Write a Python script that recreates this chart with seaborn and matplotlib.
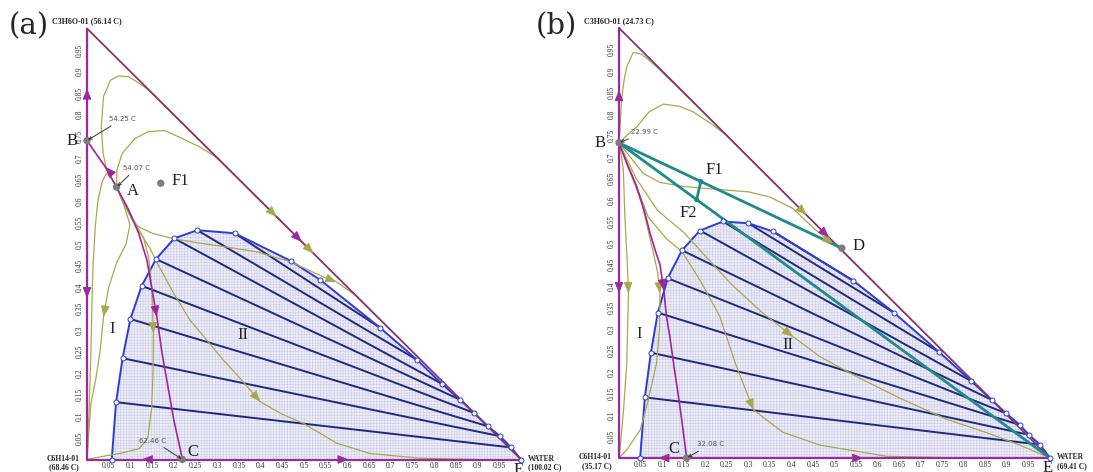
import matplotlib.pyplot as plt
import numpy as np
import pandas as pd
import seaborn as sns


sns.set_theme(style="white")
plt.rcParams["font.family"] = ["Liberation Serif", "DejaVu Serif"]
plt.rcParams["hatch.linewidth"] = 0.35

PURPLE = "#9c2a9c"
HYPO = "#8a3270"
MAGENTA = "#a3249a"
OLIVE = "#a9a84c"
BLUE = "#2d3cd8"
NAVY = "#22297c"
TEAL = "#1e8a8a"
GRAY = "#7c7c7c"

TICKS = [0.05, 0.1, 0.15, 0.2, 0.25, 0.3, 0.35, 0.4, 0.45, 0.5,
         0.55, 0.6, 0.65, 0.7, 0.75, 0.8, 0.85, 0.9, 0.95]
TICK_LABELS = ["0.05", "0.1", "0.15", "0.2", "0.25", "0.3", "0.35", "0.4", "0.45", "0.5",
               "0.55", "0.6", "0.65", "0.7", "0.75", "0.8", "0.85", "0.9", "0.95"]

# ---------- panel (a) ----------
A_VERTEX = ["C3H6O-01 (56.14 C)", "C6H14-01\n(68.46 C)", "WATER\n(100.02 C)"]
A_BIN_X = [0.057, 0.067, 0.082, 0.100, 0.126, 0.159, 0.201, 0.254, 0.340, 0.469,
           0.537, 0.675, 0.761, 0.817, 0.859, 0.892, 0.924, 0.952, 0.977, 1.0]
A_BIN_Y = [0.0, 0.133, 0.235, 0.326, 0.403, 0.465, 0.513, 0.532, 0.525, 0.461,
           0.417, 0.306, 0.231, 0.176, 0.139, 0.108, 0.077, 0.054, 0.028, 0.0]
A_TIE_LEFT = [1, 2, 3, 4, 5, 6, 7, 8]
A_TIE_RIGHT = [18, 17, 16, 15, 14, 13, 12, 11]

A_C1 = [(0.068, 0.632), (0.055, 0.655), (0.045, 0.675), (0.037, 0.71), (0.033, 0.772),
        (0.038, 0.842), (0.054, 0.88), (0.073, 0.89), (0.096, 0.888), (0.12, 0.873),
        (0.142, 0.857), (0.25, 0.75), (0.45, 0.55)]
A_C2 = [(0.068, 0.632), (0.069, 0.672), (0.081, 0.71), (0.111, 0.745), (0.142, 0.761),
        (0.18, 0.763), (0.219, 0.745), (0.26, 0.725), (0.3, 0.7), (0.5, 0.5)]
A_C3 = [(0.068, 0.632), (0.088, 0.587), (0.104, 0.556), (0.119, 0.54), (0.15, 0.525),
        (0.196, 0.513), (0.242, 0.505), (0.314, 0.494), (0.391, 0.482), (0.468, 0.459),
        (0.544, 0.424), (0.575, 0.412), (0.62, 0.38), (0.7, 0.3)]
A_C4 = [(0.068, 0.632), (0.085, 0.59), (0.099, 0.545), (0.09, 0.5), (0.068, 0.456),
        (0.05, 0.4), (0.038, 0.331), (0.03, 0.25), (0.02, 0.185), (0.009, 0.13),
        (0.004, 0.06), (0.0, 0.0)]
A_C5 = [(0.068, 0.632), (0.055, 0.655), (0.045, 0.664), (0.035, 0.645), (0.025, 0.6),
        (0.019, 0.54), (0.014, 0.45), (0.012, 0.386), (0.009, 0.25), (0.005, 0.12), (0.0, 0.0)]
A_C6 = [(0.068, 0.632), (0.09, 0.585), (0.11, 0.55), (0.13, 0.515), (0.142, 0.47),
        (0.149, 0.401), (0.153, 0.293), (0.152, 0.2), (0.149, 0.12), (0.14, 0.05),
        (0.12, 0.025), (0.08, 0.015), (0.03, 0.006), (0.0, 0.0)]
A_C7 = [(0.068, 0.632), (0.095, 0.58), (0.12, 0.53), (0.145, 0.49), (0.165, 0.45),
        (0.2, 0.385), (0.237, 0.324), (0.314, 0.231), (0.36, 0.18), (0.399, 0.134),
        (0.45, 0.105), (0.498, 0.084), (0.575, 0.038), (0.652, 0.014), (0.767, 0.003),
        (0.9, 0.0)]
A_CURVE_ARROW = [None, None, 11, 6, None, 6, 9]
A_BOUNDARY = [(0.0, 0.74), (0.042, 0.679), (0.068, 0.632), (0.096, 0.579), (0.119, 0.525),
              (0.138, 0.463), (0.154, 0.37), (0.161, 0.331), (0.173, 0.246), (0.2, 0.092),
              (0.22, 0.0)]
A_EDGE_ARROWS = [(0, 0.861, 0, 1), (0, 0.374, 0, -1), (0.126, 0, -1, 0),
                 (0.603, 0, 1, 0), (0.495, 0.505, 1, -1)]
A_OLIVE_ARROWS = [(0.437, 0.563, 1, -1), (0.522, 0.478, 1, -1)]
A_POINTS = {"B": (0.0, 0.74), "A": (0.068, 0.632), "F1": (0.17, 0.641), "C": (0.22, 0.0)}

# ---------- panel (b) ----------
B_VERTEX = ["C3H6O-01 (24.73 C)", "C6H14-01\n(35.17 C)", "WATER\n(69.41 C)"]
B_BIN_X = [0.049, 0.060, 0.074, 0.090, 0.113, 0.146, 0.188, 0.241, 0.300, 0.357,
           0.544, 0.638, 0.742, 0.817, 0.865, 0.898, 0.930, 0.951, 0.977, 1.0]
B_BIN_Y = [0.0, 0.141, 0.245, 0.338, 0.418, 0.483, 0.529, 0.550, 0.546, 0.527,
           0.412, 0.338, 0.247, 0.179, 0.135, 0.104, 0.077, 0.054, 0.031, 0.0]
B_TIE_LEFT = [1, 2, 3, 4, 5, 6, 7, 8, 9]
B_TIE_RIGHT = [18, 17, 16, 15, 14, 13, 12, 11, 10]

B_D1 = [(0.0, 0.733), (0.003, 0.78), (0.006, 0.833), (0.012, 0.88), (0.018, 0.91),
        (0.033, 0.943), (0.05, 0.94), (0.064, 0.93), (0.087, 0.91), (0.2, 0.8), (0.35, 0.65)]
B_D2 = [(0.0, 0.733), (0.02, 0.752), (0.041, 0.77), (0.07, 0.805), (0.103, 0.823),
        (0.14, 0.818), (0.172, 0.805), (0.21, 0.78), (0.25, 0.75), (0.4, 0.6)]
B_D3 = [(0.0, 0.733), (0.026, 0.7), (0.056, 0.662), (0.095, 0.641), (0.145, 0.632),
        (0.2, 0.627), (0.25, 0.623), (0.3, 0.619), (0.35, 0.607), (0.404, 0.58),
        (0.451, 0.535), (0.486, 0.506), (0.497, 0.499), (0.531, 0.469), (0.6, 0.4)]
B_D4 = [(0.0, 0.733), (0.006, 0.7), (0.01, 0.67), (0.014, 0.553), (0.019, 0.46),
        (0.022, 0.383), (0.018, 0.22), (0.01, 0.104), (0.004, 0.04), (0.0, 0.0)]
B_D5 = [(0.0, 0.733), (0.022, 0.677), (0.053, 0.592), (0.08, 0.476), (0.09, 0.43),
        (0.095, 0.383), (0.094, 0.3), (0.087, 0.22), (0.064, 0.119), (0.049, 0.065),
        (0.018, 0.019), (0.0, 0.0)]
B_D6 = [(0.0, 0.733), (0.03, 0.66), (0.068, 0.56), (0.11, 0.51), (0.146, 0.48),
        (0.19, 0.41), (0.234, 0.329), (0.27, 0.22), (0.312, 0.112), (0.38, 0.06),
        (0.466, 0.03), (0.621, 0.004), (0.8, 0.0)]
B_D7 = [(0.0, 0.733), (0.04, 0.65), (0.09, 0.575), (0.15, 0.525), (0.2, 0.47),
        (0.26, 0.405), (0.33, 0.34), (0.404, 0.282), (0.466, 0.236), (0.55, 0.19),
        (0.65, 0.14), (0.76, 0.09), (0.85, 0.06), (0.93, 0.03), (1.0, 0.0)]
B_CURVE_ARROW = [None, None, 12, 5, 5, 8, 7]
B_BOUNDARY = [(0.0, 0.733), (0.02, 0.68), (0.041, 0.631), (0.06, 0.57), (0.072, 0.523),
              (0.085, 0.48), (0.095, 0.45), (0.104, 0.39), (0.11, 0.33), (0.118, 0.282),
              (0.128, 0.21), (0.138, 0.143), (0.148, 0.07), (0.157, 0.0)]
B_EDGE_ARROWS = [(0, 0.856, 0, 1), (0, 0.383, 0, -1), (0.091, 0, -1, 0),
                 (0.567, 0, 1, 0), (0.487, 0.513, 1, -1)]
B_OLIVE_ARROWS = [(0.435, 0.565, 1, -1)]
B_POINTS = {"B": (0.0, 0.733), "C": (0.157, 0.0), "D": (0.517, 0.488)}
B_F1 = (0.19, 0.643)
B_F2 = (0.18, 0.601)


def head(ax, x, y, dx, dy, color):
    d = np.array([dx, dy], float)
    d /= np.hypot(*d)
    ax.annotate("", xy=(x, y), xytext=(x - 0.015 * d[0], y - 0.015 * d[1]),
                arrowprops=dict(arrowstyle="-|>,head_length=0.55,head_width=0.22",
                                color=color, lw=0.8, shrinkA=0, shrinkB=0),
                annotation_clip=False, zorder=8)


def curve(ax, pts, color, lw, arrow=None, z=4):
    df = pd.DataFrame(pts, columns=["x", "y"])
    sns.lineplot(df, x="x", y="y", sort=False, estimator=None, color=color,
                 lw=lw, ax=ax, zorder=z)
    if arrow is not None:
        p0, p1 = np.array(pts[arrow - 1]), np.array(pts[arrow])
        head(ax, p1[0], p1[1], *(p1 - p0), color=color)


def base(ax, vertex):
    ax.set_xlim(0, 1)
    ax.set_ylim(0, 1)
    ax.set_xticks(TICKS, TICK_LABELS)
    ax.set_yticks(TICKS, TICK_LABELS, rotation=90, va="center")
    ax.tick_params(labelsize=5.5, length=0, pad=2, colors="#333333")
    for s in ax.spines.values():
        s.set_visible(False)
    ax.text(0, 1.017, vertex[0], ha="center", va="center", fontsize=5.8,
            fontweight="bold", clip_on=False)
    ax.text(-0.018, -0.008, vertex[1], ha="right", va="center", fontsize=5.5,
            fontweight="bold", linespacing=1.1, clip_on=False)
    ax.text(1.016, -0.008, vertex[2], ha="left", va="center", fontsize=5.5,
            fontweight="bold", linespacing=1.1, clip_on=False)


def binodal(ax, bx, by, left, right):
    ax.fill(bx, by, facecolor="#eeeef9", edgecolor="#c9c9e8", hatch="++++++",
            linewidth=0, zorder=1)
    for i, j in zip(left, right):
        ax.plot([bx[i], bx[j]], [by[i], by[j]], color=NAVY, lw=1.4, zorder=2)
    sns.lineplot(x=bx, y=by, sort=False, estimator=None, color=BLUE, lw=1.4,
                 ax=ax, zorder=3)
    sns.scatterplot(x=bx, y=by, s=13, color="white", edgecolor=BLUE, linewidth=0.7,
                    ax=ax, zorder=9, clip_on=False)


def triangle(ax, edge_arrows, olive_arrows):
    ax.plot([0, 0, 1], [1, 0, 0], color=PURPLE, lw=1.6, zorder=5, clip_on=False)
    ax.plot([0, 1], [1, 0], color=HYPO, lw=1.3, zorder=5, clip_on=False)
    for x, y, dx, dy in edge_arrows:
        head(ax, x, y, dx, dy, PURPLE)
    for x, y, dx, dy in olive_arrows:
        head(ax, x, y, dx, dy, OLIVE)


def temp(ax, txt, xy, xytext):
    ax.annotate(txt, xy=xy, xytext=xytext, ha="center", va="center", fontsize=5,
                family="DejaVu Sans", color="#555555", zorder=10,
                arrowprops=dict(arrowstyle="->", color="#333333", lw=0.7,
                                shrinkA=1, shrinkB=1))


fig = plt.figure(figsize=(10.93, 4.72), dpi=100)
ax_a = fig.add_axes([87 / 1093, 12.5 / 472, 434 / 1093, 431 / 472])
ax_b = fig.add_axes([619 / 1093, 14 / 472, 431 / 1093, 430 / 472])

# panel (a)
base(ax_a, A_VERTEX)
binodal(ax_a, A_BIN_X, A_BIN_Y, A_TIE_LEFT, A_TIE_RIGHT)
for pts, arr in zip([A_C1, A_C2, A_C3, A_C4, A_C5, A_C6, A_C7], A_CURVE_ARROW):
    curve(ax_a, pts, OLIVE, 0.9, arr)
curve(ax_a, A_BOUNDARY, MAGENTA, 1.2, None, z=5)
head(ax_a, *A_BOUNDARY[1], -0.042, 0.047, MAGENTA)
head(ax_a, *A_BOUNDARY[7], 0.007, -0.039, MAGENTA)
triangle(ax_a, A_EDGE_ARROWS, A_OLIVE_ARROWS)
pa = pd.DataFrame(A_POINTS, index=["x", "y"]).T
sns.scatterplot(pa, x="x", y="y", s=28, color=GRAY, edgecolor="none", ax=ax_a,
                zorder=10, clip_on=False)
ax_a.set_xlabel("")
ax_a.set_ylabel("")
temp(ax_a, "54.25 C", A_POINTS["B"], (0.082, 0.79))
temp(ax_a, "54.07 C", A_POINTS["A"], (0.114, 0.676))
temp(ax_a, "62.46 C", A_POINTS["C"], (0.152, 0.044))
lab = dict(fontsize=12, color="#222222", ha="center", va="center", clip_on=False)
ax_a.text(-0.035, 0.738, "B", **lab)
ax_a.text(0.106, 0.624, "A", **lab)
ax_a.text(0.215, 0.646, "F1", **lab)
ax_a.text(0.245, 0.018, "C", **lab)
ax_a.text(0.995, -0.024, "E", **lab)
ax_a.text(0.059, 0.302, "I", **lab)
ax_a.text(0.359, 0.29, "II", **lab)

# panel (b)
base(ax_b, B_VERTEX)
binodal(ax_b, B_BIN_X, B_BIN_Y, B_TIE_LEFT, B_TIE_RIGHT)
for pts, arr in zip([B_D1, B_D2, B_D3, B_D4, B_D5, B_D6, B_D7], B_CURVE_ARROW):
    curve(ax_b, pts, OLIVE, 0.9, arr)
curve(ax_b, B_BOUNDARY, MAGENTA, 1.2, 7, z=5)
triangle(ax_b, B_EDGE_ARROWS, B_OLIVE_ARROWS)
B_pt, D_pt = B_POINTS["B"], B_POINTS["D"]
ax_b.plot([B_pt[0], D_pt[0]], [B_pt[1], D_pt[1]], color=TEAL, lw=2.0, zorder=7)
ax_b.plot([B_pt[0], 1.0], [B_pt[1], 0.0], color=TEAL, lw=2.0, zorder=7)
ax_b.plot([B_F1[0], B_F2[0]], [B_F1[1], B_F2[1]], color=TEAL, lw=2.0, zorder=7)
sns.scatterplot(x=[B_F1[0], B_F2[0]], y=[B_F1[1], B_F2[1]], s=14, color=TEAL,
                edgecolor="none", ax=ax_b, zorder=8)
pb = pd.DataFrame(B_POINTS, index=["x", "y"]).T
sns.scatterplot(pb, x="x", y="y", s=28, color=GRAY, edgecolor="none", ax=ax_b,
                zorder=10, clip_on=False)
ax_b.set_xlabel("")
ax_b.set_ylabel("")
temp(ax_b, "22.99 C", B_POINTS["B"], (0.06, 0.758))
temp(ax_b, "32.08 C", B_POINTS["C"], (0.212, 0.032))
ax_b.text(-0.044, 0.732, "B", **lab)
ax_b.text(0.222, 0.67, "F1", **lab)
ax_b.text(0.161, 0.57, "F2", **lab)
ax_b.text(0.556, 0.493, "D", **lab)
ax_b.text(0.128, 0.022, "C", **lab)
ax_b.text(0.995, -0.024, "E", **lab)
ax_b.text(0.047, 0.288, "I", **lab)
ax_b.text(0.393, 0.263, "II", **lab)

fig.text(0.026, 0.944, "(a)", fontsize=21, ha="center", va="center", family="DejaVu Serif")
fig.text(0.509, 0.944, "(b)", fontsize=21, ha="center", va="center", family="DejaVu Serif")

fig.savefig("out.png", dpi=100)
